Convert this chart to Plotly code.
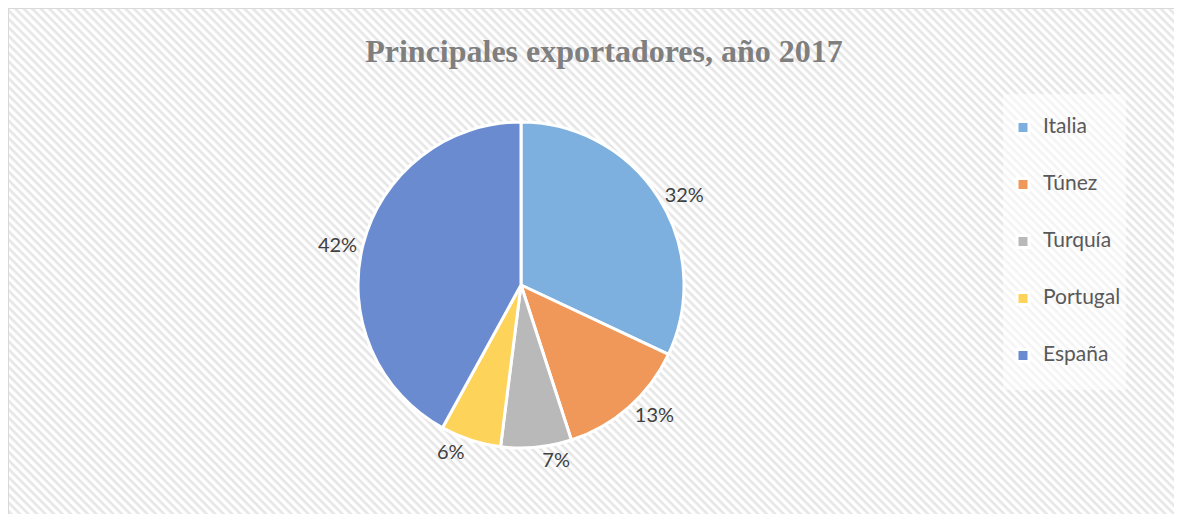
import base64
import plotly.graph_objects as go

# ---- data ----
countries = ["Italia", "Túnez", "Turquía", "Portugal", "España"]
shares = [32, 13, 7, 6, 42]
slice_colors = ["#7db0de", "#f0985a", "#b9b9b9", "#fed35a", "#6a8bd0"]
title_text = "Principales exportadores, año 2017"

W, H = 1182, 514

# legend labels: spacer lines above/below to reproduce the wide row spacing
legend_labels = [
    "\u00a0<br><span style='font-size:21px'>%s</span><br>\u00a0" % c for c in countries
]

# hatched background as inline SVG
svg = f"""<svg xmlns='http://www.w3.org/2000/svg' width='{W}' height='{H}'>
<defs><pattern id='p' patternUnits='userSpaceOnUse' width='6' height='6' patternTransform='rotate(45)'>
<rect width='6' height='6' fill='#ffffff'/>
<rect width='6' height='2.6' fill='#e6e6e6'/>
</pattern></defs>
<rect width='{W}' height='{H}' fill='url(#p)'/>
</svg>"""
bg_src = "data:image/svg+xml;base64," + base64.b64encode(svg.encode()).decode()

cx, cy, r = 513, 277, 163

fig = go.Figure()
fig.add_trace(go.Pie(
    labels=legend_labels,
    values=shares,
    sort=False,
    direction="clockwise",
    rotation=0,
    textinfo="percent",
    texttemplate="%{percent:.0%}",
    textposition="outside",
    textfont=dict(family="Lato", size=20, color="#404040"),
    marker=dict(colors=slice_colors, line=dict(color="#ffffff", width=3)),
    domain=dict(x=[(cx - r) / W, (cx + r) / W],
                y=[1 - (cy + r) / H, 1 - (cy - r) / H]),
    hovertext=countries,
    hoverinfo="text+percent",
))

fig.update_layout(
    width=W, height=H,
    margin=dict(l=0, r=0, t=0, b=0),
    paper_bgcolor="#ffffff",
    plot_bgcolor="#ffffff",
    title=dict(text="<b>" + title_text + "</b>", x=596 / W, y=1 - 43 / H,
               xanchor="center", yanchor="middle",
               font=dict(family="Liberation Serif", size=32, color="#7f7f7f")),
    legend=dict(x=995 / W, xanchor="left", y=1 - 86 / H, yanchor="top",
                font=dict(family="Lato", size=13.85, color="#595959"),
                bgcolor="rgba(255,255,255,0.55)", borderwidth=0),
    images=[dict(source=bg_src, xref="paper", yref="paper", x=0, y=1,
                 sizex=1, sizey=1, sizing="stretch", layer="below",
                 xanchor="left", yanchor="top")],
    shapes=[dict(type="rect", xref="paper", yref="paper", x0=0, y0=0, x1=1, y1=1,
                 line=dict(color="#d9d9d9", width=2))],
)

fig.write_html("out.html")
